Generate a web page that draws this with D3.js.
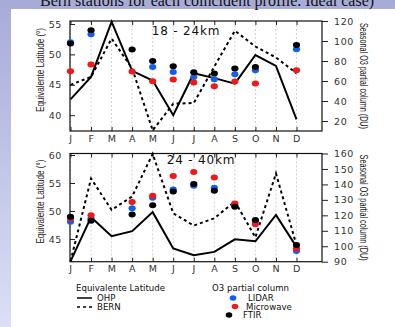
<!DOCTYPE html>
<html><head><meta charset="utf-8">
<script src="https://cdn.jsdelivr.net/npm/d3@7"></script>
<style>body{margin:0;}svg{display:block;}</style>
</head><body>
<script>
const months = ["J","F","M","A","M","J","J","A","S","O","N","D"];
// 18 - 24 km panel
const ohpTop = [42.6,46.3,55.4,47.3,45.7,40.0,46.9,46.1,45.2,49.9,48.1,39.3];
const bernTop = [45.0,46.3,52.6,47.7,37.5,41.9,42.0,48.0,53.9,51.3,49.5,46.9];
const lidarTop = [98.7,106.7,null,null,74,69,64,61.7,66.7,70.7,null,91.7];
const mwTop = [69.7,76.4,null,69.4,59.7,61.4,58.4,54.7,59.4,57.4,null,70.7];
const ftirTop = [97.4,110.7,null,91.4,80,74.7,68.7,67.4,72.4,74,null,96];
const latTicksTop = [40,45,50,55];
const duTicksTop = [20,40,60,80,100,120];
// 24 - 40 km panel
const ohpBot = [41.0,48.9,45.5,46.4,49.8,43.3,42.1,42.7,44.95,44.6,49.3,43.6];
const bernBot = [41.0,55.8,50.2,52.6,60.2,49.6,47.4,48.7,51.7,45.3,56.7,43.9];
const lidarBot = [115.8,118,null,124.5,131.3,136.7,139.1,137.8,126.2,116.3,null,96.9];
const mwBot = [118,120,null,128.7,132.6,145.5,148.1,144.5,127.7,114.3,null,98.6];
const ftirBot = [119,116.5,null,120.6,126.6,135.4,140.2,135.9,125.5,116.9,null,100.8];
const latTicksBot = [45,50,55,60];
const duTicksBot = [90,100,110,120,130,140,150,160];

const W = 395, H = 327;
const svg = d3.select("body").append("svg").attr("width", W).attr("height", H);
const defs = svg.append("defs");
const g = defs.append("linearGradient").attr("id","bg").attr("x1",0).attr("y1",0).attr("x2",0).attr("y2",1);
g.append("stop").attr("offset","0%").attr("stop-color","#a7abd8");
g.append("stop").attr("offset","100%").attr("stop-color","#dcdff6");
svg.append("rect").attr("width",W).attr("height",H).attr("fill","url(#bg)");
svg.append("rect").attr("x",11).attr("y",9).attr("width",W-11).attr("height",H-9).attr("fill","#fff");
svg.append("text").attr("x",40).attr("y",6).attr("font-family","Liberation Serif, Times New Roman, serif")
  .attr("font-size",16).attr("fill","#111").text("Bern stations for each coincident profile. Ideal case)");

const X0 = 70, X1 = 322;
const x = d3.scalePoint().domain(d3.range(12)).range([70.5, 296.5]);

function panel(o) {
  const yL = d3.scaleLinear().domain(o.latDom).range([o.y1, o.y0]);
  const yR = d3.scaleLinear().domain(o.duDom).range([o.y1, o.y0]);
  const p = svg.append("g");
  p.selectAll("line.grid").data(d3.range(12)).join("line")
    .attr("x1", d => x(d)).attr("x2", d => x(d)).attr("y1", o.y0).attr("y2", o.y1)
    .attr("stroke", "#c8c8c8").attr("stroke-width", 0.8).attr("stroke-dasharray", "2,2");
  const tickStyle = sel => {
    sel.select(".domain").remove();
    sel.selectAll("text").attr("font-family","DejaVu Sans, Verdana, sans-serif").attr("font-size",9.5)
      .attr("fill","#333").attr("letter-spacing","0.6px");
    sel.selectAll("line").attr("stroke","#222");
  };
  p.append("g").attr("transform",`translate(${X0},0)`)
    .call(d3.axisLeft(yL).tickValues(o.latTicks).tickSize(-5).tickPadding(8)).call(tickStyle);
  p.append("g").attr("transform",`translate(${X1},0)`)
    .call(d3.axisRight(yR).tickValues(o.duTicks).tickSize(6).tickPadding(6)).call(tickStyle);
  p.append("g").attr("transform",`translate(0,${o.y1})`)
    .call(d3.axisBottom(x).tickFormat(i => months[i]).tickSize(-4).tickPadding(4)).call(tickStyle);
  p.append("g").attr("transform",`translate(0,${o.y0})`)
    .call(d3.axisTop(x).tickFormat("").tickSize(-4)).call(tickStyle);
  p.append("rect").attr("x",X0).attr("y",o.y0).attr("width",X1-X0).attr("height",o.y1-o.y0)
    .attr("fill","none").attr("stroke","#111").attr("stroke-width",1.2);
  const line = d3.line().x((d,i) => x(i)).y(d => yL(d));
  p.append("path").attr("d", line(o.bern)).attr("fill","none").attr("stroke","#000")
    .attr("stroke-width",2).attr("stroke-dasharray","3,3");
  p.append("path").attr("d", line(o.ohp)).attr("fill","none").attr("stroke","#000").attr("stroke-width",2);
  [[o.lidar,"#1060f0"],[o.mw,"#f01818"],[o.ftir,"#000"]].forEach(([arr,c]) => {
    p.selectAll(null).data(arr.map((v,i)=>({v,i})).filter(d => d.v != null)).join("ellipse")
      .attr("cx", d => x(d.i)).attr("cy", d => yR(d.v)).attr("rx",3.6).attr("ry",3).attr("fill",c);
  });
  p.append("text").attr("x",o.labX).attr("y",o.labY).attr("text-anchor","middle")
    .attr("font-family","DejaVu Sans, Verdana, sans-serif").attr("font-size",12).attr("letter-spacing","0.8px")
    .attr("fill","#111").text(o.label);
  const cy = (o.y0+o.y1)/2;
  p.append("text").attr("transform",`translate(44,${cy-6}) rotate(-90)`).attr("text-anchor","middle")
    .attr("font-family","Liberation Sans Narrow, Liberation Sans, Arial, sans-serif").attr("font-size",10.5)
    .attr("textLength",84).attr("lengthAdjust","spacingAndGlyphs").attr("fill","#222").text("Equivalente Latitude (°)");
  p.append("text").attr("transform",`translate(360,${cy}) rotate(90)`).attr("text-anchor","middle")
    .attr("font-family","Liberation Sans Narrow, Liberation Sans, Arial, sans-serif").attr("font-size",11)
    .attr("textLength",106).attr("lengthAdjust","spacingAndGlyphs").attr("fill","#222").text("Seasonal O3 partial column (DU)");
}

panel({y0:21, y1:131, latDom:[37.4,55.5], duDom:[10,120], latTicks:latTicksTop, duTicks:duTicksTop,
  ohp:ohpTop, bern:bernTop, lidar:lidarTop, mw:mwTop, ftir:ftirTop, label:"18 - 24km", labX:186, labY:35});
panel({y0:153.5, y1:261.7, latDom:[40.95,60.27], duDom:[90,160], latTicks:latTicksBot, duTicks:duTicksBot,
  ohp:ohpBot, bern:bernBot, lidar:lidarBot, mw:mwBot, ftir:ftirBot, label:"24 - 40km", labX:201, labY:164});

const lg = svg.append("g").attr("font-family","DejaVu Sans, Verdana, sans-serif").attr("font-size",8.6).attr("fill","#111");
lg.append("text").attr("x",76).attr("y",291).text("Equivalente Latitude");
lg.append("line").attr("x1",77).attr("x2",92).attr("y1",298).attr("y2",298).attr("stroke","#000").attr("stroke-width",1.5);
lg.append("text").attr("x",97).attr("y",301).text("OHP");
lg.append("line").attr("x1",77).attr("x2",93).attr("y1",307).attr("y2",307).attr("stroke","#000").attr("stroke-width",1.5).attr("stroke-dasharray","3,3");
lg.append("text").attr("x",97).attr("y",310).text("BERN");
lg.append("text").attr("x",212).attr("y",291).text("O3 partial column");
const leg = [["LIDAR","#1060f0",233,298,248],["Microwave","#f01818",235,306.5,246],["FTIR","#000",229,315,243]];
leg.forEach(([t,c,cx,cy,tx]) => {
  lg.append("ellipse").attr("cx",cx).attr("cy",cy).attr("rx",3.3).attr("ry",2.8).attr("fill",c);
  lg.append("text").attr("x",tx).attr("y",cy+3).text(t);
});
</script>
</body></html>
